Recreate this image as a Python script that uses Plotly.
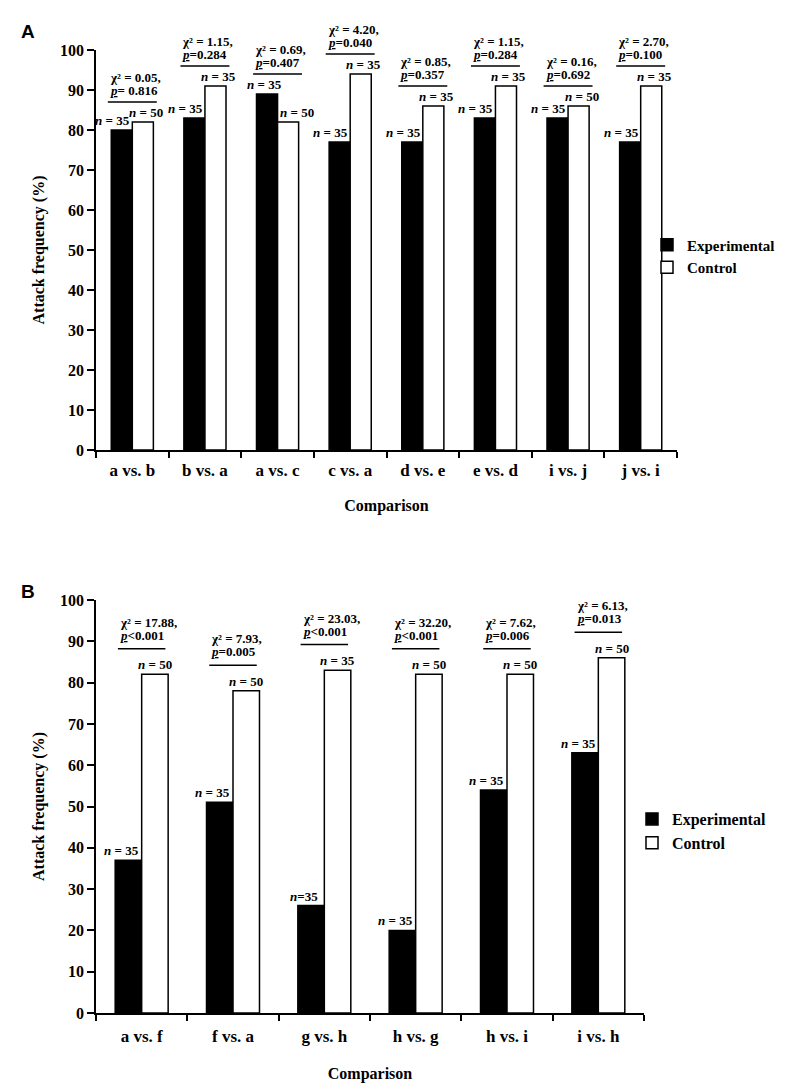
import plotly.graph_objects as go

# ---------------- data ----------------
cats_a = ["a vs. b", "b vs. a", "a vs. c", "c vs. a", "d vs. e", "e vs. d", "i vs. j", "j vs. i"]
exp_a = [80, 83, 89, 77, 77, 83, 83, 77]
ctl_a = [82, 91, 82, 94, 86, 91, 86, 91]
nexp_a = ["n = 35"] * 8
nctl_a = ["n = 50", "n = 35", "n = 50", "n = 35", "n = 35", "n = 35", "n = 50", "n = 35"]
chi_a = ["0.05", "1.15", "0.69", "4.20", "0.85", "1.15", "0.16", "2.70"]
p_a = ["= 0.816", "=0.284", "=0.407", "=0.040", "=0.357", "=0.284", "=0.692", "=0.100"]

cats_b = ["a vs. f", "f vs. a", "g vs. h", "h vs. g", "h vs. i", "i vs. h"]
exp_b = [37, 51, 26, 20, 54, 63]
ctl_b = [82, 78, 83, 82, 82, 86]
nexp_b = ["n = 35", "n = 35", "n=35", "n = 35", "n = 35", "n = 35"]
nctl_b = ["n = 50", "n = 50", "n = 35", "n = 50", "n = 50", "n = 50"]
chi_b = ["17.88", "7.93", "23.03", "32.20", "7.62", "6.13"]
p_b = ["<0.001", "=0.005", "<0.001", "<0.001", "=0.006", "=0.013"]

# ---------------- style ----------------
PAGE_OFF = 8                      # default body margin of the html page
W, H = 788 - PAGE_OFF, 1090 - PAGE_OFF
L, T = 96 - PAGE_OFF, 50 - PAGE_OFF
R = W - (677 - PAGE_OFF)
B = H - (1013 - PAGE_OFF)
PW, PH = W - L - R, H - T - B
SERIF = "Liberation Serif"
BLK = "black"


def px_x(p):  # page pixel -> paper
    return (p - PAGE_OFF - L) / PW


def px_y(p):
    return 1 - (p - PAGE_OFF - T) / PH


def bfont(size, family=SERIF):
    return dict(family=family, size=size, color=BLK, weight="bold")


fig = go.Figure()

panels = [
    dict(cats=cats_a, exp=exp_a, ctl=ctl_a, nexp=nexp_a, nctl=nctl_a, chi=chi_a, p=p_a,
         xa="x", ya="y", legend="legend", half=0.337, off=5.0, pshift=2, cshift=15,
         short=9, tall=3),
    dict(cats=cats_b, exp=exp_b, ctl=ctl_b, nexp=nexp_b, nctl=nctl_b, chi=chi_b, p=p_b,
         xa="x2", ya="y2", legend="legend2", half=0.26, off=6.2, pshift=4, cshift=17,
         short=7, tall=0),
]

annotations = []
shapes = []
for pn in panels:
    n = len(pn["cats"])
    xs = list(range(n))
    fig.add_trace(go.Bar(x=xs, y=pn["exp"], name="Experimental", xaxis=pn["xa"], yaxis=pn["ya"],
                         marker=dict(color=BLK, line=dict(color=BLK, width=1.5)),
                         legend=pn["legend"]))
    fig.add_trace(go.Bar(x=xs, y=pn["ctl"], name="Control", xaxis=pn["xa"], yaxis=pn["ya"],
                         marker=dict(color="white", line=dict(color=BLK, width=1.5)),
                         legend=pn["legend"]))
    for i in xs:
        e, c = pn["exp"][i], pn["ctl"][i]
        sh_e = -(pn["short"] if e < c else pn["tall"])
        sh_c = (pn["short"] if c < e else pn["tall"])
        for val, txt, dx, sh in [(e, pn["nexp"][i], -0.145, sh_e), (c, pn["nctl"][i], 0.145, sh_c)]:
            t = txt.replace("n", "<i>n</i>", 1)
            annotations.append(dict(x=i + dx, y=val, xref=pn["xa"], yref=pn["ya"], text=t,
                                    showarrow=False, yanchor="bottom", xanchor="center",
                                    xshift=sh, font=bfont(13)))
        ly = max(e, c) + pn["off"]
        shapes.append(dict(type="line", xref=pn["xa"], yref=pn["ya"],
                           x0=i - pn["half"], x1=i + pn["half"], y0=ly, y1=ly,
                           line=dict(color=BLK, width=1.5)))
        annotations.append(dict(x=i - pn["half"], y=ly, xref=pn["xa"], yref=pn["ya"],
                                text="<i><u>p</u></i>" + pn["p"][i], showarrow=False,
                                xanchor="left", yanchor="bottom", yshift=pn["pshift"],
                                font=bfont(13)))
        annotations.append(dict(x=i - pn["half"], y=ly, xref=pn["xa"], yref=pn["ya"],
                                text="χ² = " + pn["chi"][i] + ",", showarrow=False,
                                xanchor="left", yanchor="bottom", yshift=pn["cshift"],
                                font=bfont(13)))

annotations.append(dict(x=px_x(28), y=px_y(32), xref="paper", yref="paper", text="A",
                        xanchor="center", yanchor="middle", showarrow=False,
                        font=bfont(19, "Liberation Sans")))
annotations.append(dict(x=px_x(28), y=px_y(591), xref="paper", yref="paper", text="B",
                        xanchor="center", yanchor="middle", showarrow=False,
                        font=bfont(19, "Liberation Sans")))


def xaxis(domain, n, cats, anchor, lab_off, title_off):
    return dict(domain=domain, anchor=anchor, range=[-0.5, n - 0.5],
                tickvals=list(range(n)), ticktext=cats, ticks="", ticklabelstandoff=lab_off,
                minor=dict(tickvals=[i - 0.5 for i in range(n + 1)], ticks="outside",
                           ticklen=6, tickwidth=1.5, tickcolor=BLK, showgrid=False),
                showline=True, linecolor=BLK, linewidth=1.5, showgrid=False, zeroline=False,
                tickfont=bfont(17),
                title=dict(text="Comparison", standoff=title_off, font=bfont(16)))


def yaxis(domain, anchor):
    return dict(domain=domain, anchor=anchor, range=[0, 100], dtick=10, tick0=0,
                ticks="outside", ticklen=7, tickwidth=1.5, tickcolor=BLK,
                showline=True, linecolor=BLK, linewidth=1.5, showgrid=False, zeroline=False,
                tickfont=bfont(16),
                title=dict(text="Attack frequency (%)", standoff=11, font=bfont(16)))


fig.update_layout(
    width=W, height=H,
    margin=dict(l=L, r=R, t=T, b=B, autoexpand=False),
    paper_bgcolor="white", plot_bgcolor="white",
    barmode="group", bargap=0.42, bargroupgap=0,
    font=dict(family=SERIF, color=BLK),
    xaxis=xaxis([0, 1], len(cats_a), cats_a, "y", 4, 21),
    yaxis=yaxis([1 - 400 / PH, 1], "x"),
    xaxis2=xaxis([0, px_x(644)], len(cats_b), cats_b, "y2", 7, 23),
    yaxis2=yaxis([0, px_y(600)], "x2"),
    legend=dict(x=px_x(647), y=px_y(256), xanchor="left", yanchor="middle",
                font=bfont(15), bgcolor="rgba(0,0,0,0)", tracegroupgap=0),
    legend2=dict(x=px_x(632), y=px_y(831), xanchor="left", yanchor="middle",
                 font=bfont(16), bgcolor="rgba(0,0,0,0)", tracegroupgap=0),
    annotations=annotations,
    shapes=shapes,
    showlegend=True,
)

fig.write_html("out.html")
